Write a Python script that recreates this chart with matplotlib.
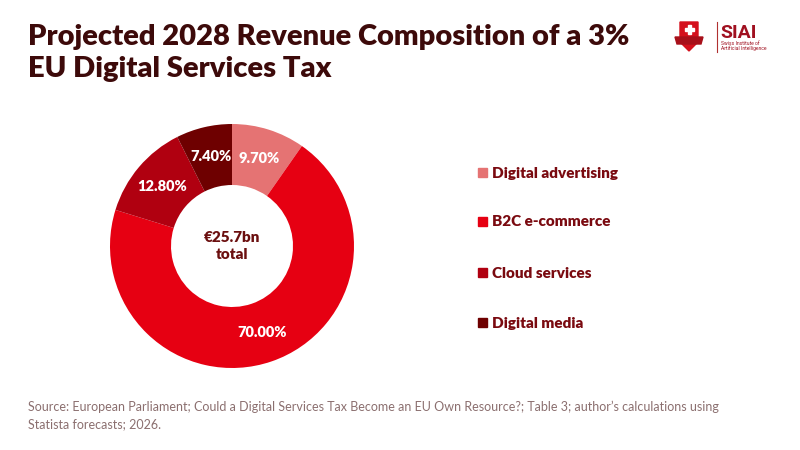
import numpy as np
import matplotlib.pyplot as plt
from matplotlib.patches import Polygon, Rectangle

categories = ["Digital advertising", "B2C e-commerce", "Cloud services", "Digital media"]
shares = [9.70, 70.00, 12.80, 7.40]
colors = ["#e57373", "#e60012", "#b00010", "#6e0000"]

title = "Projected 2028 Revenue Composition of a 3%\nEU Digital Services Tax"
center_text = "€25.7bn\ntotal"
source = ("Source: European Parliament; Could a Digital Services Tax Become an EU Own Resource?; Table 3; author’s calculations using\n"
          "Statista forecasts; 2026.")

fig = plt.figure(figsize=(8, 4.5), dpi=100)
fig.patch.set_facecolor("white")

# overlay in pixel coordinates for title, legend, logo, source
bg = fig.add_axes([0, 0, 1, 1])
bg.set_xlim(0, 800)
bg.set_ylim(450, 0)
bg.axis("off")

# donut
cx, cy, r = 232, 246, 122
ax = fig.add_axes([(cx - r) / 800, 1 - (cy + r) / 450, 2 * r / 800, 2 * r / 450])
share_iter = iter(shares)
wedges, texts, autotexts = ax.pie(
    shares, colors=colors, startangle=90, counterclock=False,
    radius=1, wedgeprops=dict(width=0.5, edgecolor="none"),
    autopct=lambda p: f"{next(share_iter):.2f}%", pctdistance=0.75,
    textprops=dict(color="white", fontsize=10.5, fontweight="heavy", family="Lato"))
ax.set_xlim(-1, 1)
ax.set_ylim(-1, 1)
ax.set_aspect("equal")
ax.text(0, 0, center_text, ha="center", va="center", fontsize=11,
        fontweight="heavy", color="#6b0f0f", family="Lato", linespacing=1.4)

bg.text(28, 24, title, fontsize=21, fontweight="heavy", color="#3d0a0a",
        family="Lato", va="top", linespacing=1.3)
bg.set_zorder(0)
ax.set_zorder(1)

# legend
leg_y = [173, 222, 273, 323]
for name, col, y in zip(categories, colors, leg_y):
    bg.add_patch(Rectangle((478, y - 5), 9, 9, color=col))
    bg.text(492, y, name, fontsize=11, fontweight="heavy", color="#7a0a10",
            family="Lato", va="center")

bg.text(28, 401, source, fontsize=9, color="#8b6f6f", family="Lato",
        va="top", linespacing=1.45)

# SIAI logo
shield = Polygon([(680, 22), (698, 22), (698, 42), (689, 51), (680, 42)],
                 closed=True, color="#d4101c")
bg.add_patch(shield)
bg.add_patch(Polygon([(675, 37), (703, 37), (701, 44), (677, 44)], closed=True, color="#a8101a"))
bg.add_patch(Rectangle((687.5, 25), 3, 9, color="white"))
bg.add_patch(Rectangle((684.5, 28), 9, 3, color="white"))
bg.plot([717, 717], [22, 52], color="#b03030", lw=0.8)
bg.text(720, 38, "SIAI", fontsize=14, fontweight="bold", color="#a01020",
        family="Roboto", va="baseline")
bg.text(721, 45, "Swiss Institute of", fontsize=3.6, color="#a01020", family="Roboto", va="baseline")
bg.text(721, 50, "Artificial Intelligence", fontsize=3.6, color="#a01020", family="Roboto", va="baseline")

fig.savefig("out.png", dpi=100, facecolor="white")
